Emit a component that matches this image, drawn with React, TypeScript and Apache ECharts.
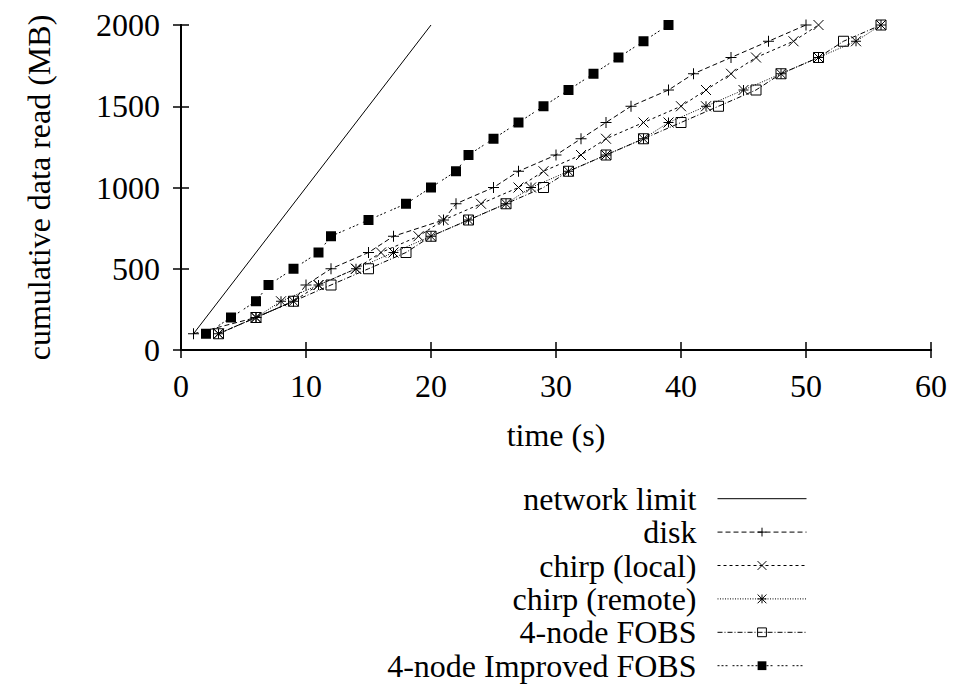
import React, { useEffect, useRef } from "react";
import * as echarts from "echarts";

// Cumulative amount read at each sample (MB)
const readMB = [100, 200, 300, 400, 500, 600, 700, 800, 900, 1000, 1100, 1200, 1300, 1400, 1500, 1600, 1700, 1800, 1900, 2000];

// Elapsed time (s) at which each cumulative amount was reached
const diskTimes = [1, 6, 9, 10, 12, 15, 17, 21, 22, 25, 27, 30, 32, 34, 36, 39, 41, 44, 47, 50];
const chirpLocalTimes = [3, 6, 9, 11, 14, 16, 19, 21, 24, 27, 29, 32, 34, 37, 40, 42, 44, 46, 49, 51];
const chirpRemoteTimes = [3, 6, 8, 11, 14, 17, 20, 23, 26, 28, 31, 34, 37, 39, 42, 45, 48, 51, 54, 56];
const fobsTimes = [3, 6, 9, 12, 15, 18, 20, 23, 26, 29, 31, 34, 37, 40, 43, 46, 48, 51, 53, 56];
const improvedFobsTimes = [2, 4, 6, 7, 9, 11, 12, 15, 18, 20, 22, 23, 25, 27, 29, 31, 33, 35, 37, 39];

// Network limit reference line
const networkLimitTimes = [1, 20];
const networkLimitMB = [100, 2000];

const seriesNames = [
  "network limit",
  "disk",
  "chirp (local)",
  "chirp (remote)",
  "4-node FOBS",
  "4-node Improved FOBS",
];

const FONT = "'Liberation Serif', 'Times New Roman', serif";

const PLUS = "path://M5,0L5,10M0,5L10,5";
const CROSS = "path://M0,0L10,10M10,0L0,10";
const STAR = "path://M5,0L5,10M0,5L10,5M0,0L10,10M10,0L0,10";
const SQUARE = "path://M0,0L10,0L10,10L0,10Z";

const pairs = (xs: number[], ys: number[]) => xs.map((x, i) => [x, ys[i]]);

type Style = {
  symbol: string;
  size: number;
  dash: number[] | "solid";
  filled: boolean;
};

const styles: Style[] = [
  { symbol: "none", size: 0, dash: "solid", filled: false },
  { symbol: PLUS, size: 11, dash: [5, 3], filled: false },
  { symbol: CROSS, size: 10, dash: [3, 3], filled: false },
  { symbol: STAR, size: 10, dash: [1, 1.5], filled: false },
  { symbol: SQUARE, size: 10, dash: [5, 2, 1, 2], filled: false },
  { symbol: "rect", size: 10, dash: [2, 2, 2, 2, 2, 5], filled: true },
];

const seriesData = [
  pairs(networkLimitTimes, networkLimitMB),
  pairs(diskTimes, readMB),
  pairs(chirpLocalTimes, readMB),
  pairs(chirpRemoteTimes, readMB),
  pairs(fobsTimes, readMB),
  pairs(improvedFobsTimes, readMB),
];

const axisLine = { show: true, lineStyle: { color: "#000", width: 2 } };
const axisTick = { show: true, inside: true, length: 8, lineStyle: { color: "#000", width: 1.5 } };
const labelStyle = { fontFamily: FONT, fontSize: 32, color: "#000" };
const plainNumber = (v: number) => String(v);

export default function App() {
  const ref = useRef<HTMLDivElement>(null);

  useEffect(() => {
    if (!ref.current) return;
    const chart = echarts.init(ref.current, undefined, { renderer: "svg" });

    const series = seriesNames.map((name, i) => {
      const s = styles[i];
      return {
        name,
        type: "line",
        data: seriesData[i],
        xAxisIndex: 0,
        yAxisIndex: 0,
        symbol: s.symbol,
        symbolSize: s.size,
        showSymbol: s.symbol !== "none",
        z: 2 + i,
        lineStyle: { color: "#000", width: 1, type: s.dash },
        itemStyle: s.filled
          ? { color: "#000", borderColor: "#000", borderWidth: 0 }
          : { color: "rgba(0,0,0,0)", borderColor: "#000", borderWidth: 1 },
        emphasis: { disabled: true },
      };
    });

    const legendData = seriesNames.map((name, i) => {
      const s = styles[i];
      return {
        name,
        itemStyle:
          s.symbol === "none"
            ? { opacity: 0 }
            : s.filled
            ? { color: "#000", borderColor: "#000", borderWidth: 0, opacity: 1 }
            : { color: "rgba(0,0,0,0)", borderColor: "#000", borderWidth: 1, opacity: 1 },
        lineStyle: { color: "#000", width: 1, type: s.dash, opacity: 1 },
      };
    });

    chart.setOption({
      animation: false,
      backgroundColor: "#fff",
      grid: { left: 181, right: 25, top: 25, bottom: 338, containLabel: false },
      xAxis: [
        {
          type: "value",
          min: 0,
          max: 60,
          interval: 10,
          position: "bottom",
          axisLine,
          axisTick,
          splitLine: { show: false },
          axisLabel: { ...labelStyle, margin: 20, formatter: plainNumber },
          name: "time (s)",
          nameLocation: "middle",
          nameGap: 69,
          nameTextStyle: labelStyle,
        },
        {
          type: "value",
          min: 0,
          max: 60,
          interval: 10,
          position: "top",
          axisLine,
          axisTick,
          splitLine: { show: false },
          axisLabel: { show: false },
        },
      ],
      yAxis: [
        {
          type: "value",
          min: 0,
          max: 2000,
          interval: 500,
          position: "left",
          axisLine,
          axisTick,
          splitLine: { show: false },
          axisLabel: { ...labelStyle, margin: 21, formatter: plainNumber },
          name: "cumulative data read (MB)",
          nameLocation: "middle",
          nameGap: 126,
          nameTextStyle: labelStyle,
        },
        {
          type: "value",
          min: 0,
          max: 2000,
          interval: 500,
          position: "right",
          axisLine,
          axisTick,
          splitLine: { show: false },
          axisLabel: { show: false },
        },
      ],
      legend: {
        orient: "vertical",
        right: 149,
        top: 482,
        align: "right",
        padding: 0,
        itemGap: 0,
        itemWidth: 89,
        itemHeight: 11,
        selectedMode: false,
        textStyle: { ...labelStyle, lineHeight: 33.4, padding: [0, 16, 0, 0] },
        data: legendData,
      },
      series,
    });

    return () => chart.dispose();
  }, []);

  return (
    <div
      ref={ref}
      style={{ position: "fixed", left: 0, top: 0, width: 956, height: 688, background: "#fff" }}
    />
  );
}
